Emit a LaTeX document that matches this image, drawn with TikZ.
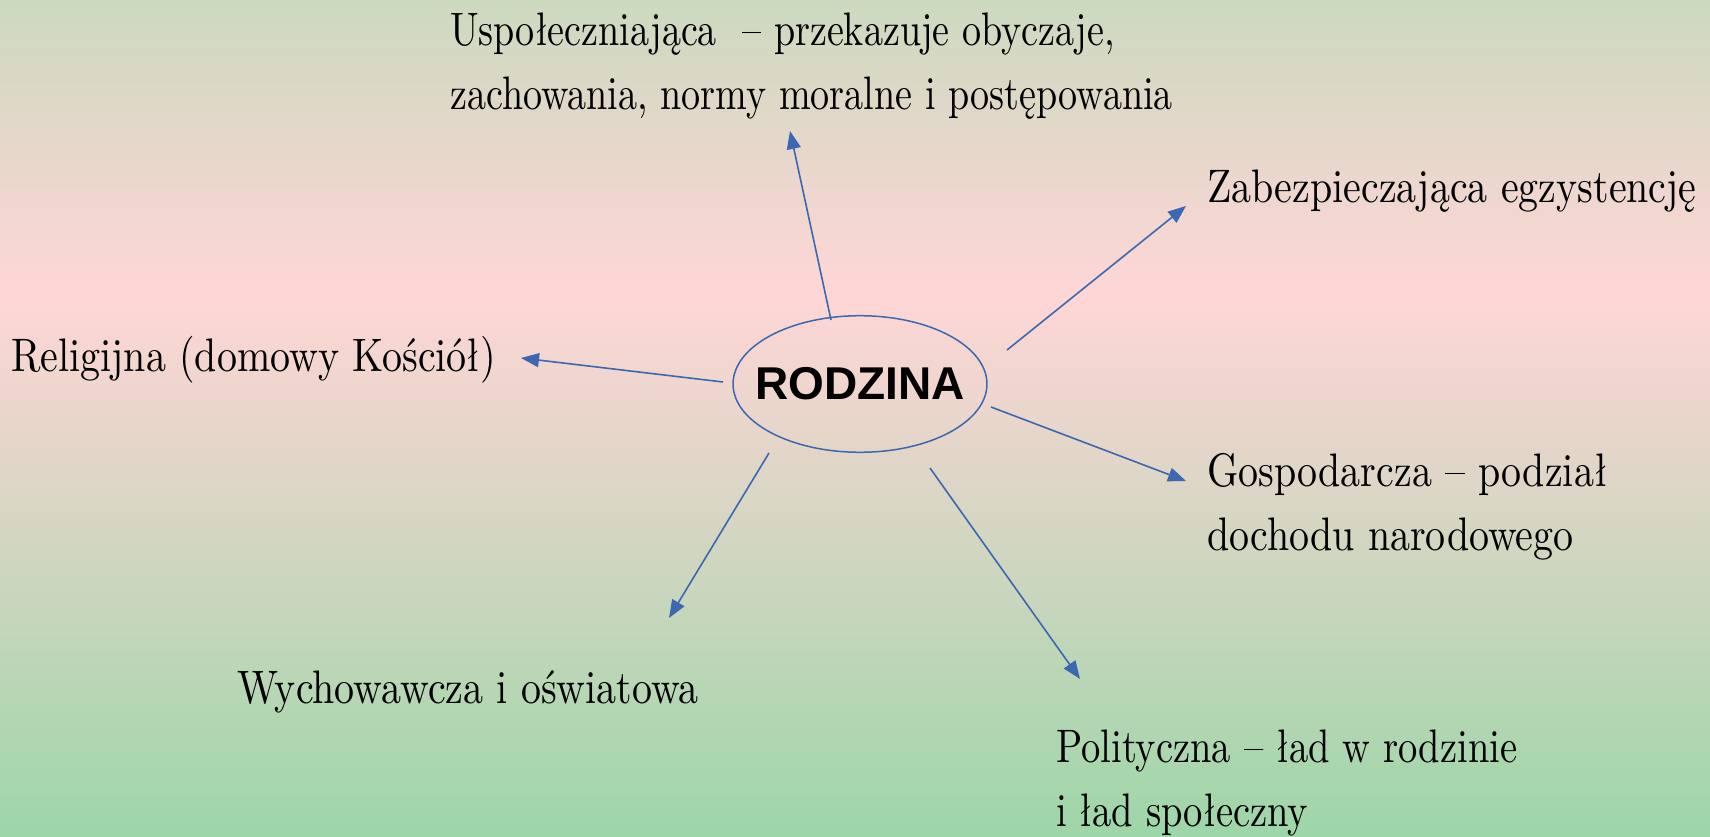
\documentclass[tikz,border=0pt]{standalone}
\usepackage{fontspec}
\usetikzlibrary{arrows.meta,shapes.geometric}
\newfontfamily\gab{lmroman10-regular.otf}[FakeStretch=0.85]
\newfontfamily\arialf{Liberation Sans}
\definecolor{bgtop}{RGB}{204,217,191}
\definecolor{bgmid}{RGB}{255,214,214}
\definecolor{bgbot}{RGB}{157,214,168}
\definecolor{arrblue}{RGB}{59,104,176}
\tikzset{
  lbl/.style={font=\gab\fontsize{47}{64}\selectfont, inner sep=0pt, anchor=base west, align=left, text=black},
  conn/.style={draw=arrblue, line width=1.6pt, -{Triangle[length=18pt,width=14pt]}},
}
\begin{document}
\begin{tikzpicture}[x=1pt,y=-1pt]
\useasboundingbox (0,0) rectangle (1710,837);
\shade[top color=bgtop, bottom color=bgmid] (0,0) rectangle (1710,295);
\shade[top color=bgmid, bottom color=bgbot] (0,295) rectangle (1710,837);
% centre
\node[draw=arrblue, line width=1.5pt, ellipse, minimum width=0pt, minimum height=0pt,
  inner xsep=-15pt, inner ysep=32pt,
  font=\arialf\bfseries\fontsize{46}{50}\selectfont] (ell) at (860,384) {RODZINA};
% labels (multi-line nodes: base = last line)
\node[lbl, font=\gab\fontsize{47}{64}\selectfont\addfontfeature{FakeStretch=0.81}] (t1) at (450,110) {Uspołeczniająca \ – przekazuje obyczaje,\\zachowania, normy moralne i postępowania};
\node[lbl] (t2) at (1207,203) {Zabezpieczająca egzystencję};
\node[lbl] (t3) at (11,371) {Religijna (domowy Kościół)};
\node[lbl] (t4) at (1207,550) {Gospodarcza – podział\\dochodu narodowego};
\node[lbl] (t5) at (237,703) {Wychowawcza i oświatowa};
\node[lbl, font=\gab\fontsize{47}{64}\selectfont\addfontfeature{FakeStretch=0.82}] (t6) at (1056,826) {Polityczna – ład w rodzinie\\i ład społeczny};
% connector ends
\coordinate (s1) at (831,320); \coordinate (e1) at (790,131);
\coordinate (s2) at (723,382); \coordinate (e2) at (521,358);
\coordinate (s3) at (1007,350); \coordinate (e3) at (1186,206);
\coordinate (s4) at (991,407); \coordinate (e4) at (1186,481);
\coordinate (s5) at (930,468); \coordinate (e5) at (1080,679);
\coordinate (s6) at (769,453); \coordinate (e6) at (669,618);
\foreach \i in {1,...,6} \draw[conn] (s\i) -- (e\i);
\end{tikzpicture}
\end{document}
